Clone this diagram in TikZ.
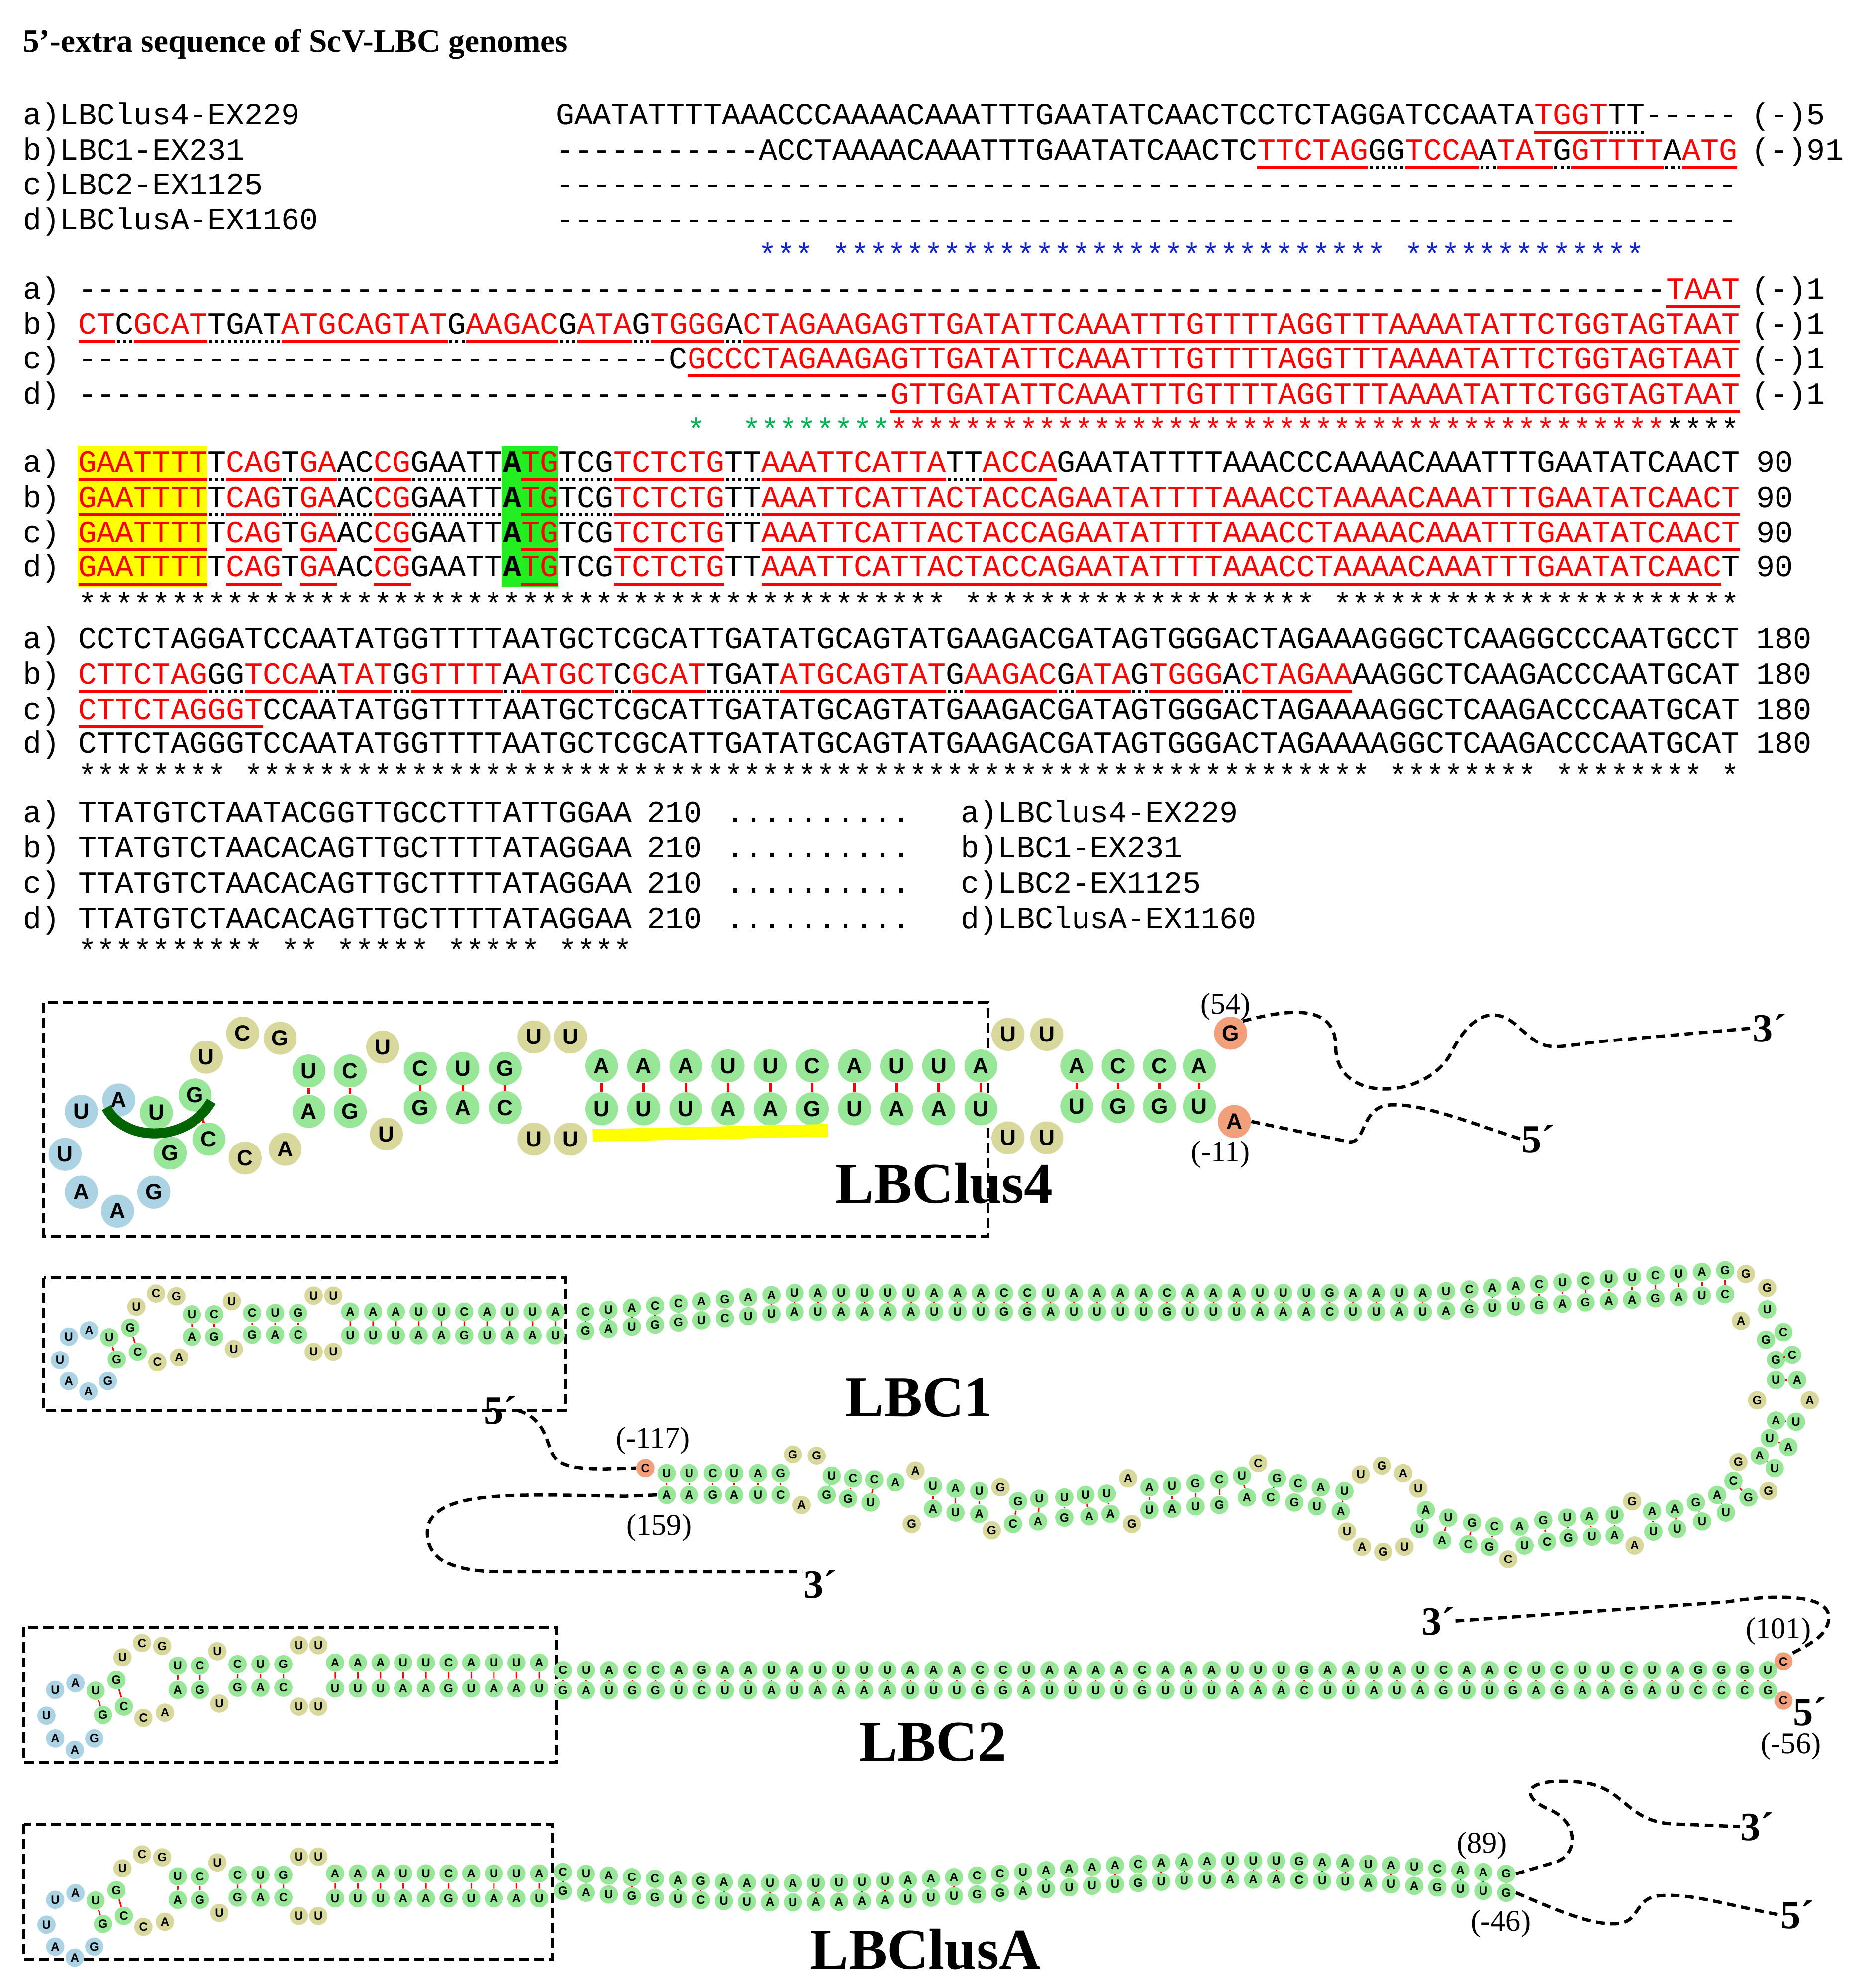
\documentclass[tikz,border=0pt]{standalone}
\usepackage{fontspec}
\setmainfont{Liberation Serif}
\setsansfont{Liberation Sans}
\setmonofont{Liberation Mono}
\usetikzlibrary{backgrounds}
\definecolor{starblue}{HTML}{1020D0}
\definecolor{stargreen}{HTML}{00B050}
\definecolor{ntg}{HTML}{98E698}
\definecolor{nty}{HTML}{D8D89C}
\definecolor{ntb}{HTML}{ABD3E3}
\definecolor{nto}{HTML}{F2A07C}
\definecolor{bbgray}{HTML}{B8B8C8}
\definecolor{darkgr}{HTML}{006400}
\definecolor{hly}{HTML}{FFFF00}
\definecolor{hlg}{HTML}{22EE22}
\newcommand\Rd[1]{{\color{red}\setbox0\hbox{#1}\rlap{\rule[-3.6pt]{\wd0}{1.2pt}}\box0}}
\newcommand\Dt[1]{\setbox0\hbox{#1}\rlap{\raisebox{-3.6pt}{\hbox to\wd0{\leaders\hbox to 2.46pt{\hss\rule{1.2pt}{1.2pt}\hss}\hfill}}}\box0}
\ExplSyntaxOn
\NewDocumentCommand\Stars{m}{\prg_replicate:nn{#1}{*}}
\NewDocumentCommand\Dashes{m}{\prg_replicate:nn{#1}{-}}
\ExplSyntaxOff
\newcommand\seqfont{\fontsize{12.3}{14}\selectfont\ttfamily}
\newcommand\core[4]{%
\node[#2,cy] (#1k1) at (456,903) {U};
\node[#2,cy] (#1k2) at (427,903) {U};
\node[#2,cg] (#1k3) at (404,878) {C};
\node[#2,cg] (#1k4) at (370,878) {A};
\node[#2,cg] (#1k5) at (336,878) {G};
\node[#2,cy] (#1k6) at (309,899) {U};
\node[#2,cg] (#1k7) at (280,881) {G};
\node[#2,cg] (#1k8) at (247,881) {A};
\node[#2,cy] (#1k9) at (228,911) {A};
\node[#2,cy] (#1k10) at (196,918) {C};
\node[#2,cg] (#1k11) at (167,903) {C};
\node[#2,cg] (#1k12) at (136,914) {G};
\node[#2,cb] (#1k13) at (123,945) {G};
\node[#2,cb] (#1k14) at (94,960) {A};
\node[#2,cb] (#1k15) at (65,945) {A};
\node[#2,cb] (#1k16) at (52,915) {U};
\node[#2,cb] (#1k17) at (65,881) {U};
\node[#2,cb] (#1k18) at (95,872) {A};
\node[#2,cg] (#1k19) at (125,882) {U};
\node[#2,cg] (#1k20) at (156,868) {G};
\node[#2,cy] (#1k21) at (165,838) {U};
\node[#2,cy] (#1k22) at (194,819) {C};
\node[#2,cy] (#1k23) at (224,823) {G};
\node[#2,cg] (#1k24) at (247,849) {U};
\node[#2,cg] (#1k25) at (280,849) {C};
\node[#2,cy] (#1k26) at (306,830) {U};
\node[#2,cg] (#1k27) at (336,847) {C};
\node[#2,cg] (#1k28) at (370,847) {U};
\node[#2,cg] (#1k29) at (404,847) {G};
\node[#2,cy] (#1k30) at (427,822) {U};
\node[#2,cy] (#1k31) at (456,822) {U};
\foreach \L [count=\i] in {A,A,A,U,U,C,A,U,U,A} \node[#2,cg] (#1s\i) at ({481+33.7*(\i-1)},845) {\L};
\foreach \L [count=\i] in {U,U,U,A,A,G,U,A,A,U} \node[#2,cg] (#1b\i) at ({481+33.7*(\i-1)},879) {\L};
\foreach \a/\b in {19/12,20/11,24/8,25/7,27/5,28/4,29/3} \draw[#3] (#1k\a) -- (#1k\b);
\foreach \i in {1,...,10} \draw[#3] (#1s\i) -- (#1b\i);
\begin{pgfonlayer}{background}
\draw[#4] (#1b1) -- (#1k1);
\foreach \i in {1,...,30} {\pgfmathtruncatemacro\j{\i+1}\draw[#4] (#1k\i) -- (#1k\j);}
\draw[#4] (#1k31) -- (#1s1);
\foreach \i in {1,...,9} {\pgfmathtruncatemacro\j{\i+1}\draw[#4] (#1s\i) -- (#1s\j); \draw[#4] (#1b\i) -- (#1b\j);}
\end{pgfonlayer}
}
\begin{document}
\begin{tikzpicture}[x=0.5pt,y=-0.5042pt,
 seq/.style={anchor=base west,inner sep=0pt,font=\seqfont},
 nb/.style={circle,inner sep=0pt,minimum size=13.2pt,font=\fontsize{8.8}{8.8}\selectfont\sffamily\bfseries},
 ns/.style={circle,inner sep=0pt,minimum size=7.3pt,font=\fontsize{4.8}{4.8}\selectfont\sffamily\bfseries},
 cg/.style={fill=ntg}, cy/.style={fill=nty}, cb/.style={fill=ntb}, co/.style={fill=nto},
 prb/.style={red,line width=1pt}, prs/.style={red,line width=0.6pt},
 bbb/.style={bbgray,line width=1.6pt}, bbs/.style={bbgray,line width=0.9pt},
 box/.style={dash pattern=on 4pt off 2pt,line width=1.2pt},
 dsh/.style={dash pattern=on 3.5pt off 2.2pt,line width=1.3pt},
 lab/.style={inner sep=0pt,font=\fontsize{12}{12}\selectfont},
 prime/.style={inner sep=0pt,font=\fontsize{16}{16}\selectfont\bfseries},
 big/.style={inner sep=0pt,font=\fontsize{23}{23}\selectfont\bfseries}]
\useasboundingbox (0,0) rectangle (1500,1568);
\fill[white] (0,0) rectangle (1500,1568);
\node[anchor=west,inner sep=0pt,font=\fontsize{13}{13}\selectfont\bfseries] (title) at (18,35) {5’-extra sequence of ScV-LBC genomes};
% block 1
\node[seq] (h1a) at (18,99) {a)LBClus4-EX229};
\node[seq] (h1b) at (18,127) {b)LBC1-EX231};
\node[seq] (h1c) at (18,154) {c)LBC2-EX1125};
\node[seq] (h1d) at (18,182) {d)LBClusA-EX1160};
\node[seq] (s1a) at (444,99) {GAATATTTTAAACCCAAAACAAATTTGAATATCAACTCCTCTAGGATCCAATA\Rd{TGGT}\Dt{TT}-----};
\node[seq] (s1b) at (444,127) {\Dashes{11}ACCTAAAACAAATTTGAATATCAACTC\Rd{TTCTAG}\Dt{GG}\Rd{TCCA}\Dt{A}\Rd{TAT}\Dt{G}\Rd{GTTTT}\Dt{A}\Rd{ATG}};
\node[seq] (s1c) at (444,154) {\Dashes{64}};
\node[seq] (s1d) at (444,182) {\Dashes{64}};
\node[seq] (n1a) at (1400,99) {(-)5};
\node[seq] (n1b) at (1400,127) {(-)91};
\node[seq] (st1) at (606,210) {\color{starblue}*** \Stars{30} \Stars{13}};
% block 2
\foreach \l/\yy in {a/237,b/265,c/292,d/320} \node[seq] (h2\l) at (18,\yy) {\l)};
\node[seq] (s2a) at (62.25,237) {\Dashes{86}\Rd{TAAT}};
\node[seq] (s2b) at (62.25,265) {\Rd{CT}\Dt{C}\Rd{GCAT}\Dt{TGAT}\Rd{ATGCAGTAT}\Dt{G}\Rd{AAGAC}\Dt{G}\Rd{ATA}\Dt{G}\Rd{TGGG}\Dt{A}\Rd{CTAGAAGAGTTGATATTCAAATTTGTTTTAGGTTTAAAATATTCTGGTAGTAAT}};
\node[seq] (s2c) at (62.25,292) {\Dashes{32}C\Rd{GCCCTAGAAGAGTTGATATTCAAATTTGTTTTAGGTTTAAAATATTCTGGTAGTAAT}};
\node[seq] (s2d) at (62.25,320) {\Dashes{44}\Rd{GTTGATATTCAAATTTGTTTTAGGTTTAAAATATTCTGGTAGTAAT}};
\foreach \l/\yy in {a/237,b/265,c/292,d/320} \node[seq] (n2\l) at (1400,\yy) {(-)1};
\node[seq] (st2a) at (549,349) {\color{stargreen}*};
\node[seq] (st2b) at (593.25,349) {{\color{stargreen}\Stars{8}}{\color{red}\Stars{42}}\Stars{4}};
% block 3
\fill[hly] (62.25,354) rectangle (165.5,465);
\fill[hlg] (401.5,354) rectangle (445.75,465);
\foreach \l/\yy in {a/374,b/402,c/430,d/457} {\node[seq] (h3\l) at (18,\yy) {\l)}; \node[seq] (n3\l) at (1404,\yy) {90};}
\node[seq] (s3a) at (62.25,374) {\Rd{GAATTTT}\Dt{T}\Rd{CAG}\Dt{T}\Rd{GA}\Dt{AC}\Rd{CG}\Dt{GAATT}\textbf{A}\Rd{TG}\Dt{TCG}\Rd{TCT}\Rd{CTG}\Dt{TT}\Rd{AAATTCATTA}\Dt{TT}\Rd{ACCA}GAATATTTTAAACCCAAAACAAATTTGAATATCAACT};
\node[seq] (s3b) at (62.25,402) {\Rd{GAATTTT}\Dt{T}\Rd{CAG}\Dt{T}\Rd{GA}\Dt{AC}\Rd{CG}\Dt{GAATT}\textbf{A}\Rd{TG}\Dt{TCG}\Rd{TCT}\Rd{CTG}\Dt{TT}\Rd{AAATTCATTACTACCAGAATATTTTAAACCTAAAACAAATTTGAATATCAACT}};
\node[seq] (s3c) at (62.25,430) {\Rd{GAATTTT}T\Rd{CAG}T\Rd{GA}AC\Rd{CG}GAATT\textbf{A}\Rd{TG}TCG\Rd{TCT}\Rd{CTG}TT\Rd{AAATTCATTACTACCAGAATATTTTAAACCTAAAACAAATTTGAATATCAACT}};
\node[seq] (s3d) at (62.25,457) {\Rd{GAATTTT}T\Rd{CAG}T\Rd{GA}AC\Rd{CG}GAATT\textbf{A}\Rd{TG}TCG\Rd{TCT}\Rd{CTG}TT\Rd{AAATTCATTACTACCAGAATATTTTAAACCTAAAACAAATTTGAATATCAAC}T};
\node[seq] (st3) at (62.25,487) {\Stars{47} \Stars{19} \Stars{22}};
% block 4
\foreach \l/\yy in {a/514,b/542,c/570,d/597} {\node[seq] (h4\l) at (18,\yy) {\l)}; \node[seq] (n4\l) at (1404,\yy) {180};}
\node[seq] (s4a) at (62.25,514) {CCTCTAGGATCCAATATGGTTTTAATGCTCGCATTGATATGCAGTATGAAGACGATAGTGGGACTAGAAAGGGCTCAAGGCCCAATGCCT};
\node[seq] (s4b) at (62.25,542) {\Rd{CTTCTAG}\Dt{GG}\Rd{TCCA}\Dt{A}\Rd{TAT}\Dt{G}\Rd{GTTTT}\Dt{A}\Rd{ATGCT}\Dt{C}\Rd{GCAT}\Dt{TGAT}\Rd{ATGCAGTAT}\Dt{G}\Rd{AAGAC}\Dt{G}\Rd{ATA}\Dt{G}\Rd{TGGG}\Dt{A}\Rd{CTAGAA}AAGGCTCAAGACCCAATGCAT};
\node[seq] (s4c) at (62.25,570) {\Rd{CTTCTAGGGT}CCAATATGGTTTTAATGCTCGCATTGATATGCAGTATGAAGACGATAGTGGGACTAGAAAAGGCTCAAGACCCAATGCAT};
\node[seq] (s4d) at (62.25,597) {CTTCTAGGGTCCAATATGGTTTTAATGCTCGCATTGATATGCAGTATGAAGACGATAGTGGGACTAGAAAAGGCTCAAGACCCAATGCAT};
\node[seq] (st4) at (62.25,623) {\Stars{8} \Stars{61} \Stars{8} \Stars{8} *};
% block 5
\node[seq] (s5a) at (18,652) {a) TTATGTCTAATACGGTTGCCTTTATTGGAA};
\node[seq] (s5b) at (18,680) {b) TTATGTCTAACACAGTTGCTTTTATAGGAA};
\node[seq] (s5c) at (18,708) {c) TTATGTCTAACACAGTTGCTTTTATAGGAA};
\node[seq] (s5d) at (18,736) {d) TTATGTCTAACACAGTTGCTTTTATAGGAA};
\foreach \l/\yy/\nm in {a/652/a)LBClus4-EX229,b/680/b)LBC1-EX231,c/708/c)LBC2-EX1125,d/736/d)LBClusA-EX1160} {
 \node[seq] (m5\l) at (517,\yy) {210}; \node[seq] (p5\l) at (580,\yy) {..........}; \node[seq] (q5\l) at (768,\yy) {\nm};}
\node[seq] (st5) at (62.25,762) {********** ** ***** ***** ****};

% ===== LBClus4 =====
\draw[box] (35,795) rectangle (790,980);
\core{p}{nb}{prb}{bbb}
\node[nb,cy] (e1) at (806,820) {U};
\node[nb,cy] (e2) at (837,820) {U};
\foreach \L/\xx [count=\i from 3] in {A/861,C/894,C/927,A/959} \node[nb,cg] (e\i) at (\xx,845) {\L};
\node[nb,co] (e7) at (984,819) {G};
\node[nb,cy] (f1) at (806,902) {U};
\node[nb,cy] (f2) at (837,902) {U};
\foreach \L/\xx [count=\i from 3] in {U/861,G/894,G/927,U/959} \node[nb,cg] (f\i) at (\xx,877) {\L};
\node[nb,co] (f7) at (987,889) {A};
\foreach \i in {3,...,6} \draw[prb] (e\i) -- (f\i);
\begin{pgfonlayer}{background}
\draw[bbb] (ps10) -- (e1) -- (e2) -- (e3) -- (e4) -- (e5) -- (e6) -- (e7);
\draw[bbb] (pb10) -- (f1) -- (f2) -- (f3) -- (f4) -- (f5) -- (f6) -- (f7);
\end{pgfonlayer}
\draw[hly,line width=5pt] (474,900) -- (662,896);
\draw[darkgr,line width=4pt] (85,878) .. controls (100,906) and (150,906) .. (169,873);
\node[big] (t4) at (755,938) {LBClus4};
\node[lab] (l54) at (980,798) {(54)};
\node[lab] (l11) at (976,915) {(-11)};
\node[prime] (p3a) at (1415,815) {3´};
\node[prime] (p5a) at (1230,903) {5´};
\draw[dsh] (e7.north east) .. controls (1030,800) and (1068,795) .. (1068,830) .. controls (1068,875) and (1140,872) .. (1160,835) .. controls (1175,805) and (1195,795) .. (1215,815) .. controls (1235,832) .. (1275,826) -- (p3a.west);
\draw[dsh] (f7.east) -- (1078,905) .. controls (1092,908) and (1088,878) .. (1110,876) .. controls (1135,874) and (1170,888) .. (p5a.west);

% ===== LBC1 =====
\draw[box] (35,1013) rectangle (452,1118);
\begin{scope}[shift={(19.8,575)},xscale=0.541,yscale=0.55]
\core{a}{ns}{prs}{bbs}
\end{scope}
\foreach \L [count=\i from 0] in {C,U,A,C,C,A,G,A,A,U,A,U,U,U,U,A,A,A,C,C,U,A,A,A,A,C,A,A,A,U,U,U,G,A,A,U,A,U,C,A,A,C,U,C,U,U,C,U,A,G}
 \node[ns,cg] (Ut\i) at ({468+18.6*\i},{1040-15*min(\i,9)/9-18*max(\i-36,0)/13}) {\L};
\foreach \L [count=\i from 0] in {G,A,U,G,G,U,C,U,U,A,U,A,A,A,A,U,U,U,G,G,A,U,U,U,U,G,U,U,U,A,A,A,C,U,U,A,U,A,G,U,U,G,A,G,A,A,G,A,U,C}
 \node[ns,cg] (Ub\i) at ({468+18.6*\i},{1055-15*min(\i,9)/9-14*max(\i-36,0)/13}) {\L};
\foreach \i in {0,...,49} \draw[prs] (Ut\i) -- (Ub\i);
\foreach \px/\py/\L/\c [count=\i] in {1396/1010/G/cy,1413/1021/G/cy,1413/1038/U/cg,1426/1056/C/cg,1433/1074/C/cg,1437/1094/A/cg,1447/1110/A/cy,1436/1127/U/cg,1430/1147/A/cg,1419/1164/U/cg,1414/1182/G/cy,1398/1187/G/cg,1380/1199/U/cg,1361/1206/U/cg,1341/1212/U/cg,1322/1214/U/cg,1307/1225/A/cy,1291/1217/A/cg,1273/1218/U/cg,1254/1219/G/cg,1237/1222/C/cg,1219/1225/U/cg,1206/1236/C/cy,1191/1226/G/cg,1174/1224/C/cg,1153/1221/A/cg,1135/1212/U/cg,1123/1226/U/cy,1106/1230/G/cy,1089/1226/A/cy,1077/1214/U/cy,1072/1198/A/cg,1053/1194/U/cg,1035/1191/G/cg,1016/1187/C/cg,997/1187/A/cg,975/1193/G/cg,956/1194/U/cg,937/1196/A/cg,919/1197/U/cg,905/1208/G/cy,888/1200/A/cg,871/1202/A/cg,851/1203/G/cg,830/1206/A/cg,810/1208/C/cg,793/1213/G/cy,783/1200/A/cg,764/1199/U/cg,746/1196/A/cg,729/1208/G/cy,696/1191/U/cg,678/1188/G/cg,661/1185/G/cg,641/1193/A/cy,624/1185/C/cg,606/1185/U/cg,587/1185/A/cg,570/1185/G/cg,551/1185/A/cg,533/1185/A/cg}
 \node[ns,\c] (R\i) at (\px,\py) {\L};
\foreach \px/\py/\L/\c [count=\i] in {516/1164/C/co,533/1168/U/cg,551/1168/U/cg,570/1168/C/cg,587/1168/U/cg,606/1168/A/cg,624/1168/G/cg,634/1153/G/cy,653/1154/G/cy,665/1170/U/cg,682/1172/C/cg,699/1173/C/cg,716/1175/A/cg,732/1166/A/cy,746/1178/U/cg,764/1180/A/cg,783/1182/U/cg,800/1179/G/cy,814/1190/G/cg,831/1188/U/cg,851/1187/U/cg,868/1185/U/cg,885/1184/U/cg,902/1172/A/cy,919/1179/A/cg,937/1178/U/cg,956/1176/G/cg,975/1173/C/cg,993/1170/U/cg,1006/1160/C/cy,1021/1172/G/cg,1038/1176/C/cg,1056/1179/A/cg,1075/1182/U/cg,1088/1169/U/cy,1105/1162/G/cy,1122/1168/A/cy,1134/1180/U/cy,1140/1197/A/cg,1158/1203/U/cg,1177/1207/G/cg,1195/1210/C/cg,1215/1210/A/cg,1234/1205/G/cg,1253/1203/U/cg,1271/1202/A/cg,1291/1201/U/cg,1305/1190/G/cy,1321/1198/A/cg,1339/1196/A/cg,1356/1191/G/cg,1373/1185/A/cg,1386/1174/C/cg,1390/1159/G/cy,1407/1154/A/cg,1415/1140/U/cg,1420/1126/A/cg,1405/1110/G/cy,1420/1094/U/cg,1420/1078/G/cg,1412/1062/G/cg,1392/1047/A/cy}
 \node[ns,\c] (Q\i) at (\px,\py) {\L};
\foreach \a/\b in {2/61,3/60,4/59,5/58,6/57,7/56,10/54,11/53,12/52,15/50,16/49,17/48,19/46,20/45,21/44,22/43,23/42,25/40,26/39,27/38,28/37,29/36,31/35,32/34,33/33,34/32,39/27,40/26,41/25,42/24,43/22,44/21,45/20,46/19,47/18,49/16,50/15,51/14,52/13,53/12,55/10,56/9,57/8,59/6,60/5,61/4}
 \draw[prs] (Q\a) -- (R\b);
\begin{pgfonlayer}{background}
\draw[bbs] (as10) -- (Ut0); \draw[bbs] (ab10) -- (Ub0);
\foreach \i in {0,...,48} {\pgfmathtruncatemacro\j{\i+1}\draw[bbs] (Ut\i) -- (Ut\j); \draw[bbs] (Ub\i) -- (Ub\j);}
\draw[bbs] (Ut49) -- (R1); \draw[bbs] (Q62) -- (Ub49);
\foreach \i in {1,...,60} {\pgfmathtruncatemacro\j{\i+1}\draw[bbs] (R\i) -- (R\j);}
\foreach \i in {1,...,61} {\pgfmathtruncatemacro\j{\i+1}\draw[bbs] (Q\i) -- (Q\j);}
\end{pgfonlayer}
\node[big] (t1) at (735,1108) {LBC1};
\node[lab] (l117) at (522,1142) {(-117)};
\node[lab] (l159) at (527,1211) {(159)};
\node[prime] (p5b) at (400,1118) {5´};
\node[prime] (p3b) at (656,1256) {3´};
\draw[dsh] (p5b.east) .. controls (440,1125) and (436,1150) .. (446,1158) .. controls (456,1166) and (480,1165) .. (Q1.west);
\draw[dsh] (R61.west) -- (500,1186) .. controls (420,1185) and (350,1180) .. (342,1210) .. controls (338,1240) and (370,1246) .. (400,1246) -- (p3b.west |- 0,1246);

% ===== LBC2 =====
\draw[box] (19,1290) rectangle (445,1397);
\begin{scope}[shift={(9.2,811)},xscale=0.538,yscale=0.6]
\core{c}{ns}{prs}{bbs}
\end{scope}
\foreach \L [count=\i from 0] in {C,U,A,C,C,A,G,A,A,U,A,U,U,U,U,A,A,A,C,C,U,A,A,A,A,C,A,A,A,U,U,U,G,A,A,U,A,U,C,A,A,C,U,C,U,U,C,U,A,G,G,G,U}
 \node[ns,cg] (Vt\i) at ({450+18.53*\i},1324) {\L};
\foreach \L [count=\i from 0] in {G,A,U,G,G,U,C,U,U,A,U,A,A,A,A,U,U,U,G,G,A,U,U,U,U,G,U,U,U,A,A,A,C,U,U,A,U,A,G,U,U,G,A,G,A,A,G,A,U,C,C,C,G}
 \node[ns,cg] (Vb\i) at ({450+18.53*\i},1340) {\L};
\foreach \i in {0,...,52} \draw[prs] (Vt\i) -- (Vb\i);
\node[ns,co] (o2t) at (1426,1317) {C};
\node[ns,co] (o2b) at (1426,1348) {C};
\begin{pgfonlayer}{background}
\draw[bbs] (cs10) -- (Vt0); \draw[bbs] (cb10) -- (Vb0);
\foreach \i in {0,...,51} {\pgfmathtruncatemacro\j{\i+1}\draw[bbs] (Vt\i) -- (Vt\j); \draw[bbs] (Vb\i) -- (Vb\j);}
\draw[bbs] (Vt52) -- (o2t); \draw[bbs] (Vb52) -- (o2b);
\end{pgfonlayer}
\node[big] (t2) at (746,1381) {LBC2};
\node[lab] (l101) at (1422,1293) {(101)};
\node[lab] (l56) at (1432,1384) {(-56)};
\node[prime] (p3c) at (1150,1285) {3´};
\node[prime] (p5c) at (1447,1357) {5´};
\draw[dsh] (p3c.east) -- (1380,1270) .. controls (1430,1262) and (1466,1266) .. (1462,1285) .. controls (1459,1300) and (1440,1306) .. (o2t.north east);

% ===== LBClusA =====
\draw[box] (19,1446) rectangle (442,1553);
\begin{scope}[shift={(9.2,995)},xscale=0.538,yscale=0.58]
\core{d}{ns}{prs}{bbs}
\end{scope}
\foreach \L [count=\i from 0] in {C,U,A,C,C,A,G,A,A,U,A,U,U,U,U,A,A,A,C,C,U,A,A,A,A,C,A,A,A,U,U,U,G,A,A,U,A,U,C,A,A,G}
 \node[ns,cg] (Wt\i) at ({450+18.4*\i},{1484+9*sin(9*\i)}) {\L};
\foreach \L [count=\i from 0] in {G,A,U,G,G,U,C,U,U,A,U,A,A,A,A,U,U,U,G,G,A,U,U,U,U,G,U,U,U,A,A,A,C,U,U,A,U,A,G,U,U,G}
 \node[ns,cg] (Wb\i) at ({450+18.4*\i},{1499+9*sin(9*\i)}) {\L};
\foreach \i in {0,...,41} \draw[prs] (Wt\i) -- (Wb\i);
\begin{pgfonlayer}{background}
\draw[bbs] (ds10) -- (Wt0); \draw[bbs] (db10) -- (Wb0);
\foreach \i in {0,...,40} {\pgfmathtruncatemacro\j{\i+1}\draw[bbs] (Wt\i) -- (Wt\j); \draw[bbs] (Wb\i) -- (Wb\j);}
\end{pgfonlayer}
\node[big] (tA) at (740,1545) {LBClusA};
\node[lab] (l89) at (1185,1463) {(89)};
\node[lab] (l46) at (1200,1525) {(-46)};
\node[prime] (p3d) at (1405,1448) {3´};
\node[prime] (p5d) at (1437,1518) {5´};
\draw[dsh] (Wt41.east) -- (1244,1476) .. controls (1262,1470) and (1262,1445) .. (1240,1435) .. controls (1215,1425) and (1215,1408) .. (1265,1413) .. controls (1300,1417) and (1300,1445) .. (1340,1446) -- (p3d.west);
\draw[dsh] (Wb41.east) .. controls (1240,1512) and (1270,1526) .. (1292,1525) .. controls (1312,1524) and (1306,1506) .. (1325,1503) .. controls (1350,1500) and (1380,1510) .. (p5d.west);
\end{tikzpicture}
\end{document}
